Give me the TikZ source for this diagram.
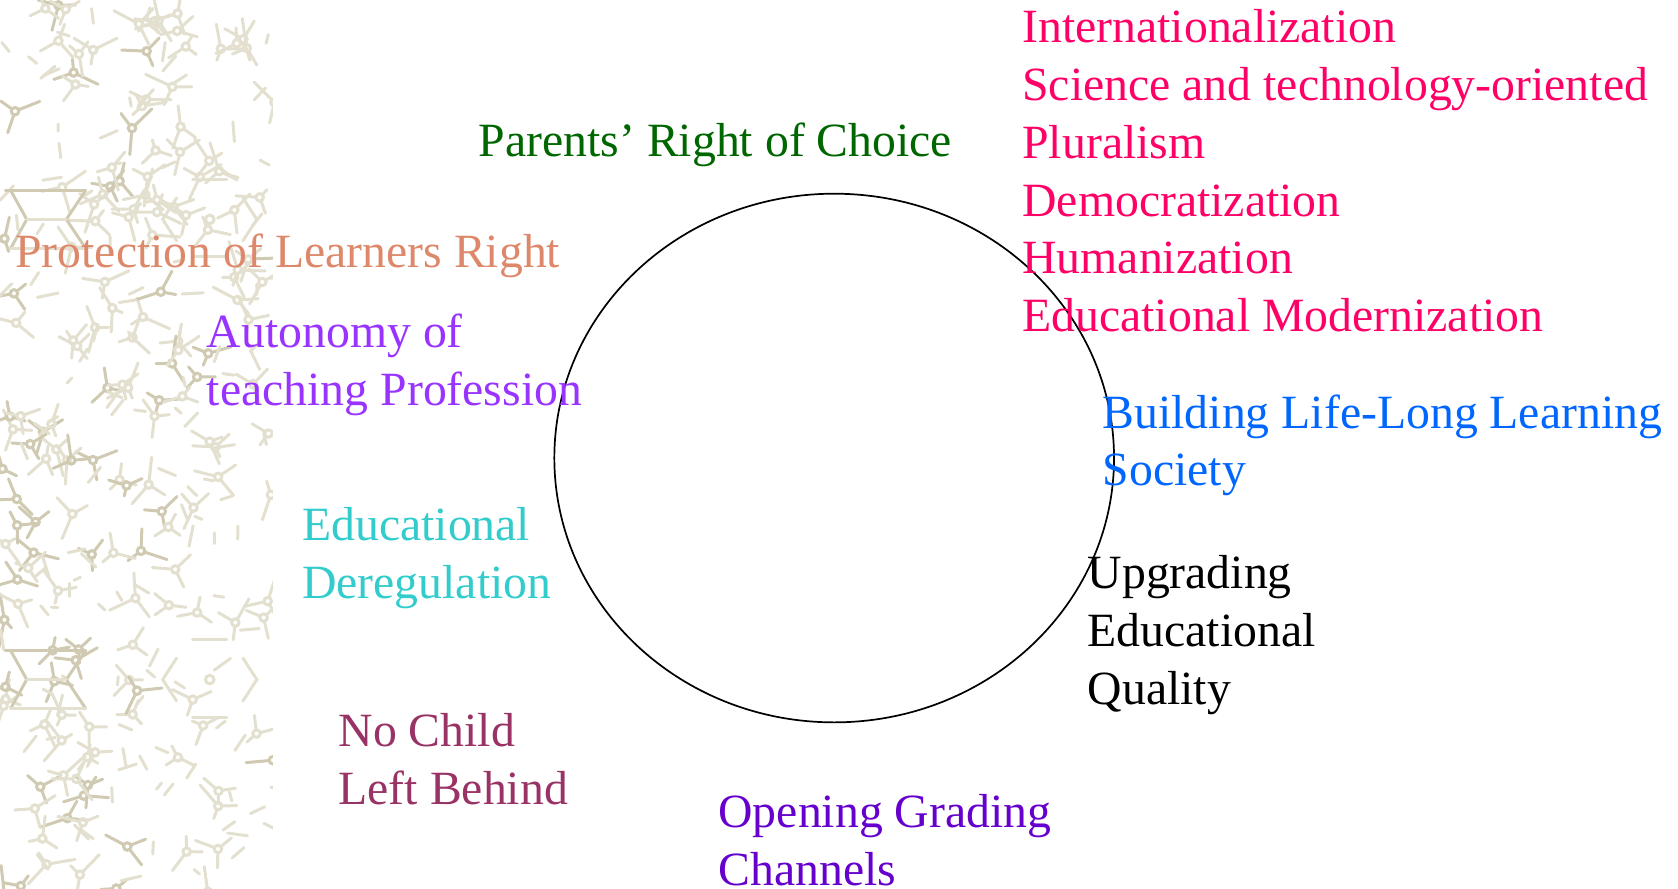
\documentclass[tikz,border=0pt]{standalone}
\usepackage{fontspec}
\setmainfont{Liberation Serif}
\usetikzlibrary{shapes.geometric}
\definecolor{cgreen}{RGB}{0,102,0}
\definecolor{cpink}{RGB}{255,0,102}
\definecolor{csalmon}{RGB}{221,136,106}
\definecolor{cpurple}{RGB}{153,51,255}
\definecolor{cblue}{RGB}{0,102,255}
\definecolor{cturq}{RGB}{51,204,204}
\definecolor{cplum}{RGB}{153,51,102}
\definecolor{cviolet}{RGB}{102,0,204}
\definecolor{patlight}{RGB}{228,224,208}
\definecolor{patdark}{RGB}{208,202,178}
\begin{document}
\begin{tikzpicture}[x=0.5pt,y=-0.5pt,
  lbl/.style={anchor=base west,inner sep=0pt,font=\fontsize{22.3}{27}\selectfont},
  patline/.style={line width=1.4pt,line cap=round},
  ring/.style={draw=black,line width=0.8pt}]
\useasboundingbox (0,0) rectangle (1568,830);
% background pattern strip
\begin{scope}
\clip (0,0) rectangle (255,830);
\pgfmathsetseed{11}
\foreach \i in {1,...,170} {
  \pgfmathsetmacro\px{rnd*265}
  \pgfmathsetmacro\py{rnd*840}
  \pgfmathsetmacro\a{rnd*360}
  \pgfmathsetmacro\b{\a+100+rnd*60}
  \pgfmathsetmacro\c{\b+90+rnd*60}
  \pgfmathsetmacro\la{10+rnd*14}
  \pgfmathsetmacro\lb{8+rnd*14}
  \pgfmathsetmacro\lc{6+rnd*12}
  \pgfmathsetmacro\sel{rnd*(0.4+\px/150)}
  \ifdim\sel pt<0.3pt \def\pc{patdark}\else\def\pc{patlight}\fi
  \draw[patline,draw=\pc] (\px,\py) circle (3.5);
  \draw[patline,draw=\pc] (\px,\py) ++(\a:4) -- ++(\a:\la);
  \draw[patline,draw=\pc] (\px,\py) ++(\b:4) -- ++(\b:\lb);
  \draw[patline,draw=\pc] (\px,\py) ++(\c:4) -- ++(\c:\lc);
}
\foreach \i in {1,...,120} {
  \pgfmathsetmacro\px{rnd*265}
  \pgfmathsetmacro\py{rnd*840}
  \pgfmathsetmacro\a{rnd*360}
  \pgfmathsetmacro\la{6+rnd*14}
  \draw[patline,draw=patlight] (\px,\py) -- ++(\a:\la);
}
\foreach \ty in {0,430} {
  \draw[patline,draw=patdark] (5,178+\ty) -- (80,178+\ty);
  \draw[patline,draw=patdark] (10,178+\ty) -- (25,205+\ty) -- (10,232+\ty);
  \draw[patline,draw=patdark] (80,178+\ty) -- (62,205+\ty) -- (80,232+\ty);
  \draw[patline,draw=patlight] (10,232+\ty) -- (80,232+\ty);
  \draw[patline,draw=patlight] (25,205+\ty) -- (62,205+\ty);
  \draw[patline,draw=patlight] (180,168+\ty) -- (212,168+\ty);
  \draw[patline,draw=patlight] (180,240+\ty) -- (212,240+\ty);
  \draw[patline,draw=patlight] (165,185+\ty) -- (152,205+\ty) -- (165,225+\ty);
  \draw[patline,draw=patlight] (227,185+\ty) -- (240,205+\ty) -- (227,225+\ty);
  \draw[patline,draw=patlight] (196,205+\ty) circle (4);
}
\end{scope}
% central ellipse
\node[ring,ellipse,minimum width=261.5pt,minimum height=247pt,inner sep=0pt] (ring) at (779.5,428) {};
% labels
\node[lbl,text=cgreen] (parents) at (447,146) {Parents’ Right of Choice};
\node[lbl,text=cpink] (intl) at (955,40) {Internationalization};
\node[lbl,text=cpink] (sci) at (955,94) {Science and technology-oriented};
\node[lbl,text=cpink] (plur) at (955,148) {Pluralism};
\node[lbl,text=cpink] (demo) at (955,202) {Democratization};
\node[lbl,text=cpink] (human) at (955,256) {Humanization};
\node[lbl,text=cpink] (modern) at (955,310) {Educational Modernization};
\node[lbl,text=csalmon] (protect) at (14,250) {Protection of Learners Right};
\node[lbl,text=cpurple] (auto1) at (193,325) {Autonomy of};
\node[lbl,text=cpurple] (auto2) at (193,379) {teaching Profession};
\node[lbl,text=cblue] (life1) at (1030,400) {Building Life-Long Learning};
\node[lbl,text=cblue] (life2) at (1030,454) {Society};
\node[lbl,text=cturq] (dereg1) at (282,505) {Educational};
\node[lbl,text=cturq] (dereg2) at (282,559) {Deregulation};
\node[lbl,text=black] (upg1) at (1016,550) {Upgrading};
\node[lbl,text=black] (upg2) at (1016,604) {Educational};
\node[lbl,text=black] (upg3) at (1016,658) {Quality};
\node[lbl,text=cplum] (child1) at (316,698) {No Child};
\node[lbl,text=cplum] (child2) at (316,752) {Left Behind};
\node[lbl,text=cviolet] (open1) at (671,773) {Opening Grading};
\node[lbl,text=cviolet] (open2) at (671,827) {Channels};
\end{tikzpicture}
\end{document}
